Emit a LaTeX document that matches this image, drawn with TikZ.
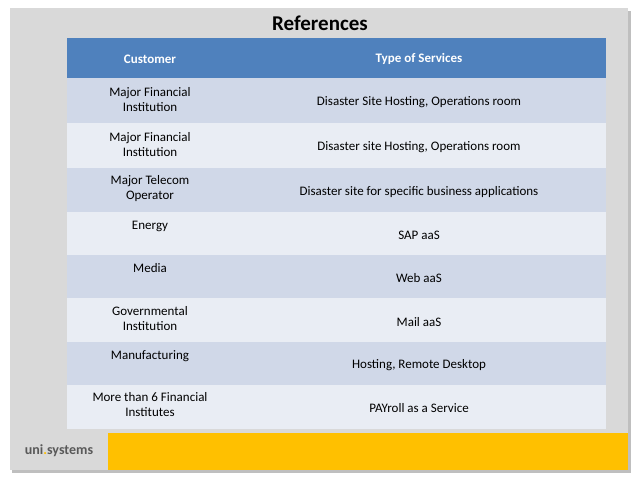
\documentclass[tikz,border=0pt]{standalone}
\usepackage{fontspec}
\setmainfont{Carlito}
\definecolor{hdr}{HTML}{4F81BD}
\definecolor{rowA}{HTML}{D0D8E8}
\definecolor{rowB}{HTML}{E9EDF4}
\definecolor{panel}{HTML}{D9D9D9}
\definecolor{ylw}{HTML}{FFC000}
\definecolor{logo}{HTML}{595959}
\begin{document}
\begin{tikzpicture}[x=1pt,y=-1pt,
  cell/.style={draw=white,line width=1.5pt},
  txt/.style={font=\fontsize{13}{15}\selectfont,align=center,text=black},
  htxt/.style={font=\bfseries\fontsize{13}{15}\selectfont,text=white}]
\useasboundingbox (0,0) rectangle (638,479);
\fill[white] (0,0) rectangle (638,479);
\fill[gray!50] (12,11) rectangle (631,473);
\fill[panel] (10,8) rectangle (628,470);
\fill[ylw] (108,433) rectangle (628,470);
\node[font=\bfseries\fontsize{14}{16}\selectfont,text=logo] (logo) at (59,451) {uni\textcolor{ylw}{.}systems};
\node[font=\bfseries\fontsize{21}{24}\selectfont] (title) at (320,23) {References};
\fill[cell,hdr] (68,39) rectangle (233,79);
\fill[cell,hdr] (233,39) rectangle (605,79);
\node[htxt] (h1) at (150,59) {Customer};
\node[htxt] (h2) at (419,59) {Type of Services};
\foreach \i/\ya/\yb/\c/\s/\cl in {
 1/79/124/{Major Financial\\Institution}/{Disaster Site Hosting, Operations room}/rowA,
 2/124/169/{Major Financial\\Institution}/{Disaster site Hosting, Operations room}/rowB,
 3/169/213/{Major Telecom\\Operator}/{Disaster site for specific business applications}/rowA,
 4/213/256/{Energy\\\phantom{X}}/{SAP aaS}/rowB,
 5/256/299/{Media\\\phantom{X}}/{Web aaS}/rowA,
 6/299/343/{Governmental\\Institution}/{Mail aaS}/rowB,
 7/343/386/{Manufacturing\\\phantom{X}}/{Hosting, Remote Desktop}/rowA,
 8/386/428/{More than 6 Financial\\Institutes}/{PAYroll as a Service}/rowB}{
  \fill[cell,\cl] (68,\ya) rectangle (233,\yb);
  \fill[cell,\cl] (233,\ya) rectangle (605,\yb);
  \node[txt] (c\i) at (150,{(\ya+\yb)/2-2}) {\c};
  \node[txt] (s\i) at (419,{(\ya+\yb)/2+1}) {\s};
}
\end{tikzpicture}
\end{document}
